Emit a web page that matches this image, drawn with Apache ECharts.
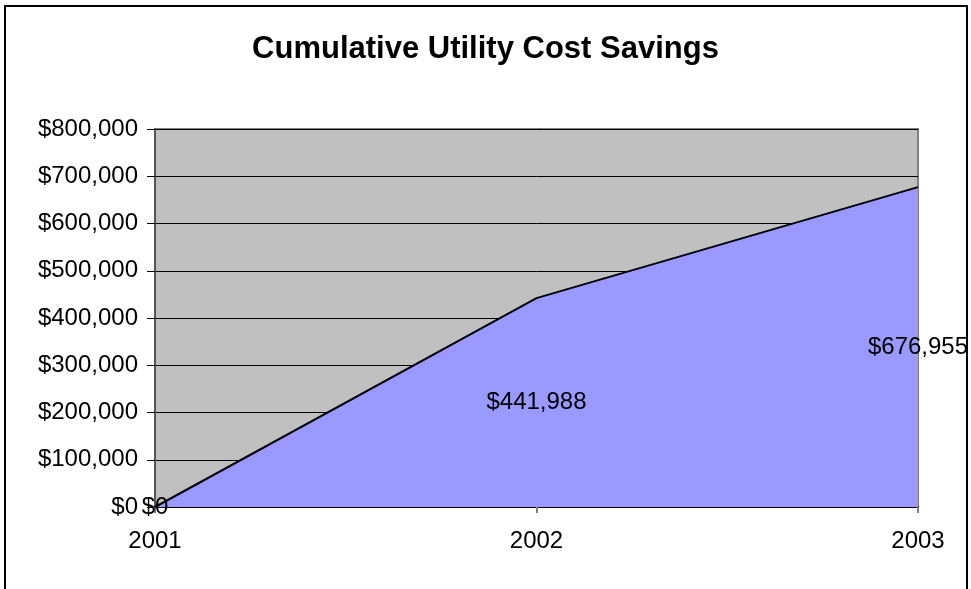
<!DOCTYPE html>
<html>
<head>
<meta charset="utf-8">
<script src="https://cdn.jsdelivr.net/npm/echarts@6/dist/echarts.min.js"></script>
<style>
html,body{margin:0;padding:0;background:#fff;}
#chart{width:971px;height:589px;}
</style>
</head>
<body>
<div id="chart"></div>
<script>
const title = 'Cumulative Utility Cost Savings';
const years = ['2001', '2002', '2003'];
const savings = [0, 441988, 676955];
const yMin = 0, yMax = 800000, yStep = 100000;

function money(v) {
  return '$' + Math.round(v).toString().replace(/\B(?=(\d{3})+(?!\d))/g, ',');
}

const chart = echarts.init(document.getElementById('chart'));
const font = 'Liberation Sans, Arial, sans-serif';
chart.setOption({
  animation: false,
  backgroundColor: '#ffffff',
  graphic: [{
    type: 'rect',
    shape: { x: 5, y: 6, width: 962, height: 620 },
    style: { fill: 'none', stroke: '#000', lineWidth: 2 },
    z: 100
  }],
  title: {
    text: title,
    left: 'center',
    top: 29,
    textStyle: { fontFamily: font, fontWeight: 'bold', fontSize: 31, color: '#000' }
  },
  grid: {
    left: 155, right: 53, top: 129, bottom: 82,
    show: true, backgroundColor: '#C0C0C0', borderColor: '#808080', borderWidth: 2
  },
  xAxis: {
    type: 'category',
    data: years,
    boundaryGap: false,
    axisLine: { show: true, lineStyle: { color: '#000', width: 2 } },
    axisTick: { show: true, alignWithLabel: true, length: 6, lineStyle: { color: '#808080', width: 2 } },
    axisLabel: { fontFamily: font, fontSize: 24, color: '#000', margin: 22 },
    splitLine: { show: false }
  },
  yAxis: {
    type: 'value',
    min: yMin, max: yMax, interval: yStep,
    axisLine: { show: true, lineStyle: { color: '#555', width: 2 } },
    axisTick: { show: true, length: 8, lineStyle: { color: '#000' } },
    axisLabel: { fontFamily: font, fontSize: 24, color: '#000', margin: 17, formatter: money },
    splitLine: { show: true, lineStyle: { color: '#000', width: 1 } }
  },
  series: [{
    type: 'line',
    data: savings,
    symbol: 'none',
    lineStyle: { color: '#000', width: 2 },
    areaStyle: { color: '#9999FF', opacity: 1 },
    z: 2
  }, {
    type: 'scatter',
    data: savings.map((v, i) => [i, v / 2, v]),
    symbolSize: 0,
    itemStyle: { opacity: 1 },
    label: {
      show: true,
      position: 'inside',
      fontFamily: font,
      fontSize: 24,
      color: '#000',
      opacity: 1,
      textBorderWidth: 0,
      formatter: p => money(p.data[2])
    },
    z: 5
  }]
});
</script>
</body>
</html>
